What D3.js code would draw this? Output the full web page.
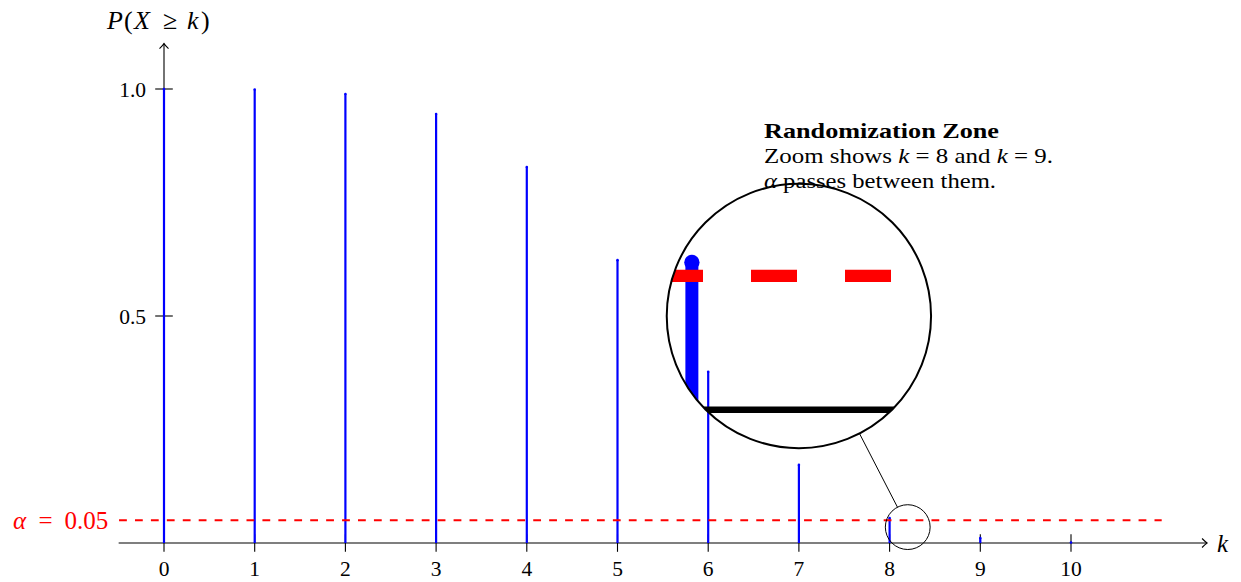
<!DOCTYPE html>
<html>
<head>
<meta charset="utf-8">
<script src="https://cdn.jsdelivr.net/npm/d3@7"></script>
<style>
  body { margin: 0; background: #fff; }
  text { font-family: "Liberation Serif", "DejaVu Serif", serif; }
</style>
</head>
<body>
<svg id="chart" width="1241" height="582"></svg>
<script>
// P(X >= k)
const ks = [0, 1, 2, 3, 4, 5, 6, 7, 8, 9, 10];
const probs = [1.0, 0.999, 0.989, 0.945, 0.828, 0.623, 0.377, 0.172, 0.055, 0.011, 0.001];
const xTicks = [0, 1, 2, 3, 4, 5, 6, 7, 8, 9, 10];
const yTicks = [0.5, 1.0];
const yTickLabels = ['0.5', '1.0'];
const alpha = 0.05;
// zoom (spy) : small circle centre and big circle centre, in data units
const spyFrom = [8.2, 0.035];
const spyTo = [7.0, 0.5];
const noteLines = ['Randomization Zone', 'Zoom shows k = 8 and k = 9.', 'α passes between them.'];

const svg = d3.select('#chart');

const x = d3.scaleLinear().domain([0, 10]).range([164, 1071]);
const y = d3.scaleLinear().domain([0, 1]).range([543, 89]);

const spyR = 22.4;
const mag = 5.9;

// arrow head like tikz "->"
function arrowHead(g, tx, ty, dir) {
    const p = dir === 'right'
        ? `M${tx - 5},${ty - 4.5} Q${tx - 1.5},${ty - 1} ${tx},${ty} Q${tx - 1.5},${ty + 1} ${tx - 5},${ty + 4.5}`
        : `M${tx - 4.5},${ty + 5} Q${tx - 1},${ty + 1.5} ${tx},${ty} Q${tx + 1},${ty + 1.5} ${tx + 4.5},${ty + 5}`;
    g.append('path').attr('d', p).attr('fill', 'none').attr('stroke', '#000').attr('stroke-width', 1.1);
}

// everything but text, so it can be drawn twice (main + zoom)
function drawPlot(g) {
    // axes
    g.append('line')
        .attr('x1', x(-0.5)).attr('x2', x(11.5))
        .attr('y1', y(0)).attr('y2', y(0))
        .attr('stroke', '#000').attr('stroke-width', 1.1);
    arrowHead(g, x(11.5), y(0), 'right');
    g.append('line')
        .attr('x1', x(0)).attr('x2', x(0))
        .attr('y1', y(0)).attr('y2', y(1.1))
        .attr('stroke', '#000').attr('stroke-width', 1.1);
    arrowHead(g, x(0), y(1.1), 'up');

    // ticks
    g.selectAll('.xtick').data(xTicks).enter().append('line')
        .attr('class', 'xtick')
        .attr('x1', d => x(d)).attr('x2', d => x(d))
        .attr('y1', y(0) - 8.8).attr('y2', y(0) + 8.8)
        .attr('stroke', '#000').attr('stroke-width', 1.1);
    g.selectAll('.ytick').data(yTicks).enter().append('line')
        .attr('class', 'ytick')
        .attr('x1', x(0) - 8.8).attr('x2', x(0) + 8.8)
        .attr('y1', d => y(d)).attr('y2', d => y(d))
        .attr('stroke', '#000').attr('stroke-width', 1.1);

    // stems
    g.selectAll('.stem').data(ks).enter().append('line')
        .attr('class', 'stem')
        .attr('x1', d => x(d)).attr('x2', d => x(d))
        .attr('y1', y(0)).attr('y2', (d, i) => y(probs[i]))
        .attr('stroke', '#0000ff').attr('stroke-width', 2.2);
    g.selectAll('.dot').data(ks).enter().append('circle')
        .attr('class', 'dot')
        .attr('cx', d => x(d)).attr('cy', (d, i) => y(probs[i]))
        .attr('r', 1.3).attr('fill', '#0000ff');

    // alpha level
    g.append('line')
        .attr('x1', x(-0.5)).attr('x2', x(11.0))
        .attr('y1', y(alpha)).attr('y2', y(alpha))
        .attr('stroke', '#ff0000').attr('stroke-width', 2.1)
        .attr('stroke-dasharray', '7.8,8.13')
        .attr('stroke-dashoffset', -0.4);
}

drawPlot(svg.append('g'));

// tick labels
svg.selectAll('.xlab').data(xTicks).enter().append('text')
    .attr('x', d => x(d)).attr('y', 576)
    .attr('text-anchor', 'middle').attr('font-size', 21.5)
    .text(d => d);
svg.selectAll('.ylab').data(yTicks).enter().append('text')
    .attr('x', 146).attr('y', d => y(d) + 7.5)
    .attr('text-anchor', 'end').attr('font-size', 21.5)
    .text((d, i) => yTickLabels[i]);

// math-ish text: pieces placed by x, natural glyph widths
function piece(t, px, s, italic) {
    const sp = t.append('tspan').attr('x', px).text(s);
    if (italic) sp.attr('font-style', 'italic');
    return sp;
}

// alpha label
const al = svg.append('text')
    .attr('y', y(alpha) + 9)
    .attr('font-size', 25).attr('fill', '#ff0000');
piece(al, 13, 'α', true);
piece(al, 38.5, '=', false);
piece(al, 64.5, '0.05', false);

// axis labels
const yl = svg.append('text').attr('y', 29).attr('font-size', 26);
piece(yl, 107, 'P', true);
piece(yl, 124, '(', false);
piece(yl, 134, 'X', true);
piece(yl, 163, '≥', false);
piece(yl, 187, 'k', true);
piece(yl, 201, ')', false);

svg.append('text')
    .attr('x', 1217).attr('y', 551.5).attr('font-size', 25)
    .attr('font-style', 'italic').text('k');

// note
const note = svg.append('g');
note.append('text')
    .attr('x', 764).attr('y', 138.3).attr('font-size', 21).attr('font-weight', 'bold')
    .attr('textLength', 235).attr('lengthAdjust', 'spacingAndGlyphs')
    .text(noteLines[0]);
const n2 = note.append('text')
    .attr('x', 764).attr('y', 163.3).attr('font-size', 22)
    .attr('textLength', 289).attr('lengthAdjust', 'spacingAndGlyphs');
n2.append('tspan').text('Zoom shows ');
n2.append('tspan').attr('font-style', 'italic').text('k');
n2.append('tspan').text(' = 8 and ');
n2.append('tspan').attr('font-style', 'italic').text('k');
n2.append('tspan').text(' = 9.');
const n3 = note.append('text')
    .attr('x', 764).attr('y', 188.3).attr('font-size', 22)
    .attr('textLength', 232).attr('lengthAdjust', 'spacingAndGlyphs');
n3.append('tspan').attr('font-style', 'italic').text('α');
n3.append('tspan').text(' passes between them.');

// spy: magnified copy inside the big circle
const fx = x(spyFrom[0]), fy = y(spyFrom[1]);
const tx = x(spyTo[0]), ty = y(spyTo[1]);
const bigR = spyR * mag;

svg.append('clipPath').attr('id', 'spyClip')
    .append('circle').attr('cx', tx).attr('cy', ty).attr('r', bigR);

const spy = svg.append('g').attr('clip-path', 'url(#spyClip)')
    .append('g')
    .attr('transform', `translate(${tx},${ty}) scale(${mag}) translate(${-fx},${-fy})`);
drawPlot(spy);

// connector
const dx = fx - tx, dy = fy - ty;
const len = Math.hypot(dx, dy);
const ux = dx / len, uy = dy / len;
svg.append('line')
    .attr('x1', tx + ux * bigR).attr('y1', ty + uy * bigR)
    .attr('x2', fx - ux * spyR).attr('y2', fy - uy * spyR)
    .attr('stroke', '#000').attr('stroke-width', 1);

svg.append('circle')
    .attr('cx', fx).attr('cy', fy).attr('r', spyR)
    .attr('fill', 'none').attr('stroke', '#000').attr('stroke-width', 1);
svg.append('circle')
    .attr('cx', tx).attr('cy', ty).attr('r', bigR)
    .attr('fill', 'none').attr('stroke', '#000').attr('stroke-width', 2);
</script>
</body>
</html>
